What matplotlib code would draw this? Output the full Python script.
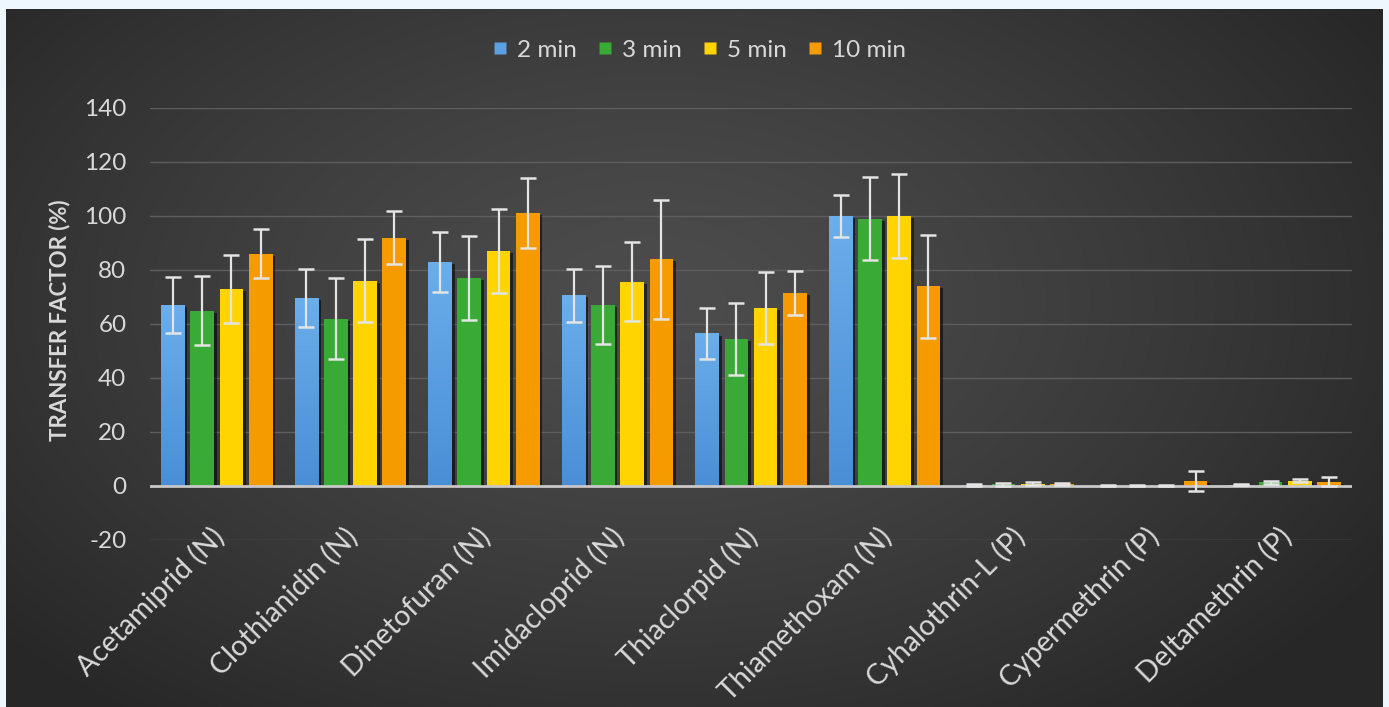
import numpy as np
import matplotlib
matplotlib.use("Agg")
import matplotlib.pyplot as plt
import matplotlib.patheffects as pe
import matplotlib.transforms as mtransforms
from matplotlib.lines import Line2D
from matplotlib.colors import LinearSegmentedColormap

plt.rcParams['font.family'] = ['Lato', 'DejaVu Sans']
plt.rcParams['axes.unicode_minus'] = False

# ---- data -------------------------------------------------------------
compounds = ["Acetamiprid (N)", "Clothianidin (N)", "Dinetofuran (N)",
             "Imidacloprid (N)", "Thiaclorpid (N)", "Thiamethoxam (N)",
             "Cyhalothrin-L (P)", "Cypermethrin (P)", "Deltamethrin (P)"]
series_names = ["2 min", "3 min", "5 min", "10 min"]

tf_2min = [67.0, 69.7, 83.0, 70.7, 56.5, 100.0, 0.5, 0.1, 0.5]
tf_3min = [65.0, 62.0, 77.0, 67.0, 54.5, 99.0, 0.6, 0.1, 1.3]
tf_5min = [73.0, 76.0, 87.0, 75.7, 66.0, 100.0, 0.8, 0.1, 2.0]
tf_10min = [86.0, 92.0, 101.0, 84.0, 71.5, 74.0, 0.6, 1.8, 1.6]

err_2min = [10.3, 10.8, 11.0, 9.8, 9.3, 7.8, 0.4, 0.2, 0.3]
err_3min = [12.6, 15.0, 15.6, 14.5, 13.3, 15.3, 0.5, 0.2, 0.4]
err_5min = [12.6, 15.3, 15.7, 14.5, 13.3, 15.5, 0.5, 0.2, 0.5]
err_10min = [9.1, 9.7, 13.0, 22.0, 8.0, 19.0, 0.4, 3.7, 1.7]

y_ticks = [-20, 0, 20, 40, 60, 80, 100, 120, 140]

values = [tf_2min, tf_3min, tf_5min, tf_10min]
errors = [err_2min, err_3min, err_5min, err_10min]
colors = ["#5ba0e2", "#39aa36", "#ffd400", "#f59b00"]
text_color = "#d9d9d9"

# ---- figure & background ---------------------------------------------
W, H = 1389, 707
fig = plt.figure(figsize=(W / 100, H / 100), dpi=100, facecolor="#eef6fe")

bg = fig.add_axes([6 / W, 0, (1383 - 6) / W, (707 - 9) / H])
bg.set_axis_off()
gx = np.linspace(0, 1, 600)
gy = np.linspace(0, 1, 320)
GX, GY = np.meshgrid(gx, gy)
r = np.sqrt(((GX - 0.47) / 0.62) ** 2 + ((GY - 0.42) / 0.75) ** 2)
r = np.clip(r, 0, 1)
shade = 0.30 - 0.145 * r ** 1.3
img = np.dstack([shade, shade, shade])
bg.imshow(img, aspect="auto", extent=[0, 1, 0, 1], origin="upper",
          interpolation="bilinear")
bg.set_xlim(0, 1)
bg.set_ylim(0, 1)

# ---- main axes --------------------------------------------------------
left, right = 150, 1352
top, bottom = 108, 540
ax = fig.add_axes([left / W, 1 - bottom / H, (right - left) / W, (bottom - top) / H])
ax.set_facecolor("none")
for s in ax.spines.values():
    s.set_visible(False)

n = len(compounds)
x = np.arange(n)
pitch = 0.2193
bw = 0.177
offsets = (np.arange(4) - 1.5) * pitch

ax.yaxis.grid(True, color="#5e5e5e", lw=1.0)
ax.set_axisbelow(True)
ax.tick_params(axis="y", length=0, pad=17, labelsize=17.5, labelcolor=text_color)
ax.set_xticks([])

shadow = [pe.SimplePatchShadow(offset=(2, -1.5), shadow_rgbFace="black", alpha=0.55),
          pe.Normal()]
blue_grad = LinearSegmentedColormap.from_list("blue_grad", ["#4a8ed6", "#6aaeec"])
ramp = np.linspace(0, 1, 64).reshape(-1, 1)

for k in range(4):
    bars = ax.bar(x + offsets[k], values[k], width=bw, color=colors[k],
                  edgecolor="none", zorder=3, label=series_names[k])
    for b in bars:
        b.set_path_effects(shadow)
        if k == 0 and b.get_height() > 2:
            x0, y0 = b.get_x(), b.get_y()
            im = ax.imshow(ramp, cmap=blue_grad, origin="lower", aspect="auto",
                           extent=[x0, x0 + b.get_width(), y0, y0 + b.get_height()],
                           zorder=3.5, interpolation="bilinear")
            im.set_clip_path(b)
    ax.errorbar(x + offsets[k], values[k], yerr=errors[k], fmt="none",
                ecolor="#e4e4e4", elinewidth=1.6, capsize=5.5, capthick=1.8,
                zorder=5)

ax.axhline(0, color="#c8c8c8", lw=2.0, zorder=4)
ax.set_ylim(-20, 140)
ax.set_xlim(-0.5, n - 0.5)
ax.set_yticks(y_ticks)

# category labels hang from the zero line
lab_off = mtransforms.ScaledTranslation(-7 / 100, -37 / 100, fig.dpi_scale_trans)
for i, name in enumerate(compounds):
    ax.text(i, 0, name, rotation=45, rotation_mode="anchor", ha="right",
            va="top", fontsize=20.5, color=text_color,
            transform=ax.transData + lab_off)

fig.text(60 / W, 1 - 320 / H, "TRANSFER FACTOR (%)", rotation=90,
         ha="center", va="center", fontsize=16, fontweight="bold",
         color=text_color)

handles = [Line2D([], [], marker="s", ls="none", markersize=8,
                  markerfacecolor=c, markeredgecolor="none") for c in colors]
fig.legend(handles, series_names, loc="center", ncol=4,
           bbox_to_anchor=(700 / W, 1 - 50 / H), frameon=False,
           fontsize=17.5, labelcolor=text_color, handlelength=0.5,
           handletextpad=0.45, columnspacing=0.9)

fig.savefig("out.png", dpi=100, facecolor=fig.get_facecolor())
